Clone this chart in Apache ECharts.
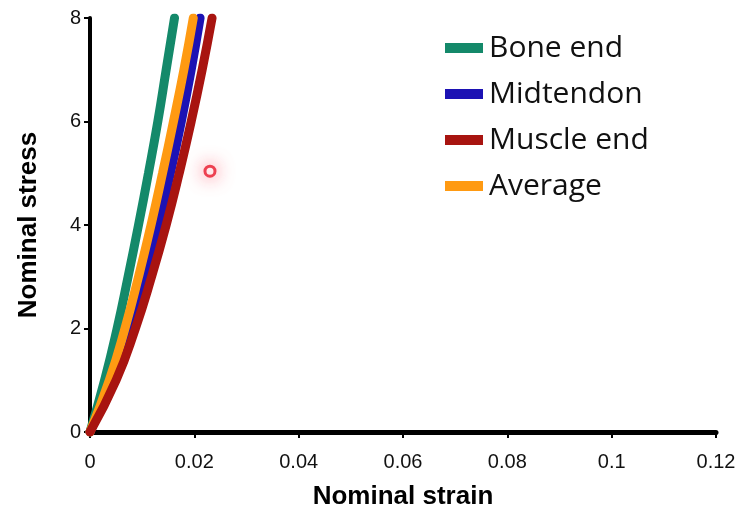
<!DOCTYPE html>
<html><head><meta charset="utf-8">
<script src="https://cdn.jsdelivr.net/npm/echarts@6/dist/echarts.min.js"></script>
<style>html,body{margin:0;padding:0;background:#fff}#c{width:739px;height:510px}</style>
</head><body><div id="c"></div>
<script>
const stressLevels = [0, 1, 2, 3, 4, 5, 6, 7, 8];
const boneEnd    = [0, 0.0028, 0.0052, 0.0073, 0.0093, 0.0112, 0.0130, 0.0146, 0.0162];
const midtendon  = [0, 0.0042, 0.0076, 0.0105, 0.0131, 0.0154, 0.0175, 0.0194, 0.0211];
const muscleEnd  = [0, 0.0050, 0.0087, 0.0118, 0.0146, 0.0171, 0.0194, 0.0215, 0.0234];
const average    = [0, 0.0037, 0.0067, 0.0093, 0.0117, 0.0139, 0.0160, 0.0180, 0.0198];
const marker = [[0.0230, 5.04]];
const xTicks = [0, 0.02, 0.04, 0.06, 0.08, 0.1, 0.12];
const yTicks = [0, 2, 4, 6, 8];

const pts = arr => arr.map((x, i) => [x, stressLevels[i]]);
const mk = (name, arr, color, z) => ({
  name, type: 'line', data: pts(arr), smooth: 0.5, showSymbol: false, symbol: 'none', z,
  lineStyle: { width: 9, color, cap: 'round' }, itemStyle: { color }
});

const chart = echarts.init(document.getElementById('c'));
chart.setOption({
  animation: false,
  backgroundColor: '#fff',
  grid: { left: 90, right: 23, top: 18, bottom: 78, containLabel: false, outerBoundsMode: 'none' },
  legend: {
    data: ['Bone end', 'Midtendon', 'Muscle end', 'Average'],
    orient: 'vertical', left: 440, top: 26, itemGap: 12,
    icon: 'rect', itemWidth: 38, itemHeight: 10,
    textStyle: { fontSize: 30, lineHeight: 34, color: '#111', fontFamily: 'Open Sans', padding: [0,0,0,1] }
  },
  xAxis: {
    type: 'value', min: 0, max: 0.12, interval: 0.02,
    name: 'Nominal strain', nameLocation: 'middle', nameGap: 52,
    nameTextStyle: { fontSize: 26, fontWeight: 'bold', color: '#000', fontFamily: 'Liberation Sans' },
    axisLine: { lineStyle: { color: '#000', width: 5 } },
    axisTick: { length: 6, lineStyle: { color: '#000', width: 2 } },
    axisLabel: { fontSize: 20, color: '#111', margin: 20, fontFamily: 'Liberation Sans',
      formatter: v => { const t = xTicks.find(k => Math.abs(k - v) < 1e-9); return t === undefined ? '' : String(t); } },
    splitLine: { show: false }
  },
  yAxis: {
    type: 'value', min: 0, max: 8, interval: 2,
    name: 'Nominal stress', nameLocation: 'middle', nameGap: 48,
    nameTextStyle: { fontSize: 26, fontWeight: 'bold', color: '#000', fontFamily: 'Liberation Sans' },
    axisLine: { show: true, lineStyle: { color: '#000', width: 4 } },
    axisTick: { show: true, length: 6, lineStyle: { color: '#000', width: 2 } },
    axisLabel: { fontSize: 20, color: '#111', margin: 9, fontFamily: 'Liberation Sans',
      formatter: v => yTicks.includes(v) ? String(v) : '' },
    splitLine: { show: false }
  },
  series: [
    mk('Midtendon', midtendon, '#1c12b4', 2),
    mk('Bone end', boneEnd, '#14896a', 3),
    mk('Average', average, '#ff9a12', 4),
    mk('Muscle end', muscleEnd, '#a81410', 5),
    { name: 'marker', type: 'scatter', data: marker, symbolSize: 10, z: 6,
      itemStyle: { color: '#fff', borderColor: '#e8182a', borderWidth: 3,
        shadowBlur: 18, shadowColor: 'rgba(255,40,60,0.7)' } }
  ]
});
</script></body></html>
